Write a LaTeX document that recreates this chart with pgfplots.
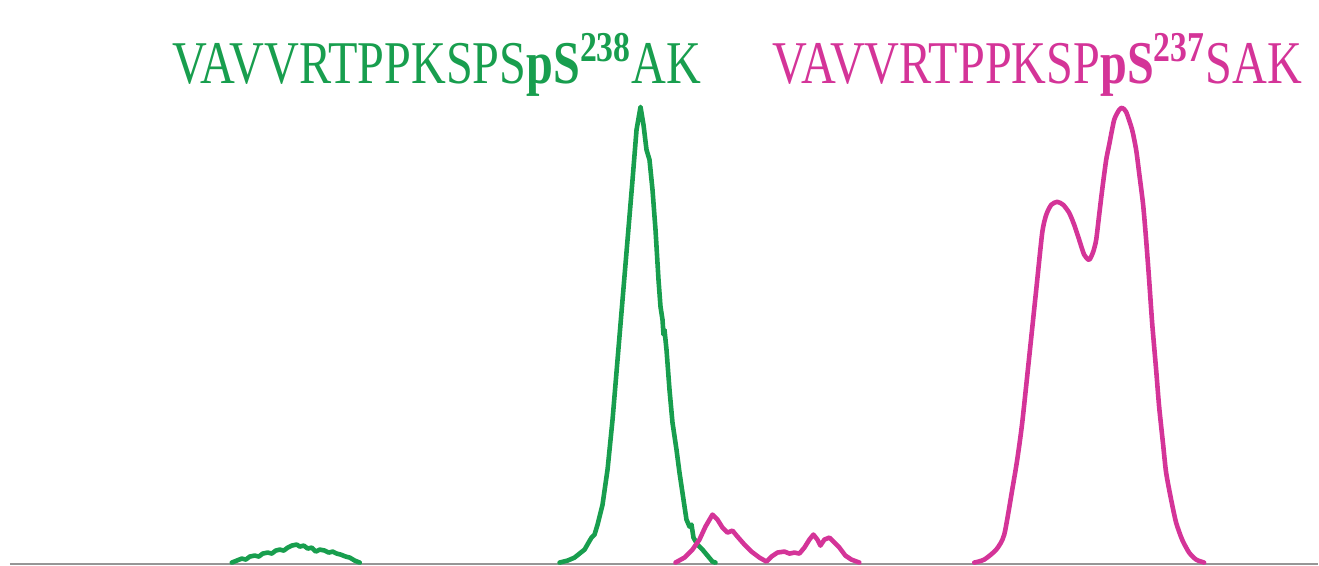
\documentclass[border=0pt]{standalone}
\usepackage{pgfplots}
\pgfplotsset{compat=1.18}
\usepackage{fontspec}
\setmainfont{Liberation Serif}
\definecolor{trgreen}{RGB}{24,158,78}
\definecolor{trmag}{RGB}{212,52,152}
\definecolor{basegray}{RGB}{150,150,150}
\newcommand{\peplabel}[1]{\scalebox{1}[1.26]{#1}}
\begin{document}
\begin{tikzpicture}
\begin{axis}[
  width=659.5bp, height=283bp, scale only axis,
  xmin=0, xmax=1319, ymin=-3, ymax=563,
  axis lines=none, ticks=none, clip=false,
  every axis plot/.append style={line width=2.3bp, line join=round, line cap=round},
]
% full plotting area as the picture's extent
\path (axis cs:0,-3) rectangle (axis cs:1319,563);
% baseline
\addplot[basegray, line width=1bp, line cap=butt] coordinates {(10,-1) (1319,-1)};
% pS238 trace
\addplot[trgreen] coordinates {
(232,0)(237,2)(242,4)(246,3)(250,6)(255,7)(259,6)(263,9)(268,10)(272,9)(276,12)(280,13)(284,12)(288,15)(292,17)(297,18)(300,16)(304,17)(308,14)(312,15)(316,11)(320,13)(325,12)(329,10)(333,11)(337,9)(341,8)(346,6)(350,5)(355,2)(360,0)};
\addplot[trgreen] coordinates {
(560,0)(568,2)(575,5)(580,9)(585,13)(589,20)(592,25)(595,28)(598,38)(603,58)(608,93)(613,143)(618,203)(623,263)(628,323)(633,383)(637,433)(641,456)(644,438)(647,413)(650,403)(653,373)(656,333)(659,283)(661,256)(663,243)(664,228)(665,233)(667,213)(670,173)(673,140)(677,113)(680,90)(684,63)(687,43)(690,36)(692,38)(694,25)(698,18)(703,13)(708,7)(713,1)(716,0)};
% pS237 trace
\addplot[trmag] coordinates {
(676,0)(685,5)(693,13)(700,23)(706,36)(713,48)(718,43)(723,35)(728,30)(733,32)(738,26)(745,18)(752,11)(760,5)(767,1)(772,6)(778,10)(785,11)(790,9)(795,10)(800,9)(805,15)(810,23)(814,28)(818,23)(821,17)(825,23)(830,25)(835,20)(840,15)(846,7)(852,3)(860,0)};
\addplot[trmag, smooth, tension=0.4] coordinates {
(975,0)(985,3)(997,13)(1005,28)(1013,73)(1018,103)(1023,140)(1030,206)(1037,273)(1043,330)(1047,348)(1052,358)(1058,361)(1064,358)(1070,350)(1075,338)(1080,323)(1085,308)(1090,303)(1094,311)(1097,323)(1100,348)(1103,373)(1107,403)(1110,418)(1115,443)(1120,453)(1123,455)(1127,451)(1133,433)(1137,413)(1140,390)(1144,358)(1147,323)(1150,283)(1153,240)(1157,193)(1160,156)(1164,118)(1167,90)(1172,63)(1177,40)(1183,23)(1190,10)(1197,3)(1205,0)};
% peptide labels
\node[anchor=base west, text=trgreen, font=\fontsize{24.2}{28}\selectfont, inner sep=0pt]
  at (axis cs:172,479) {\peplabel{VAVVRTPPKSPS\textbf{pS}\textsuperscript{\textbf{238}}AK}};
\node[anchor=base west, text=trmag, font=\fontsize{24.2}{28}\selectfont, inner sep=0pt]
  at (axis cs:773,479) {\peplabel{VAVVRTPPKSP\textbf{pS}\textsuperscript{\textbf{237}}SAK}};
\end{axis}
\end{tikzpicture}
\end{document}
